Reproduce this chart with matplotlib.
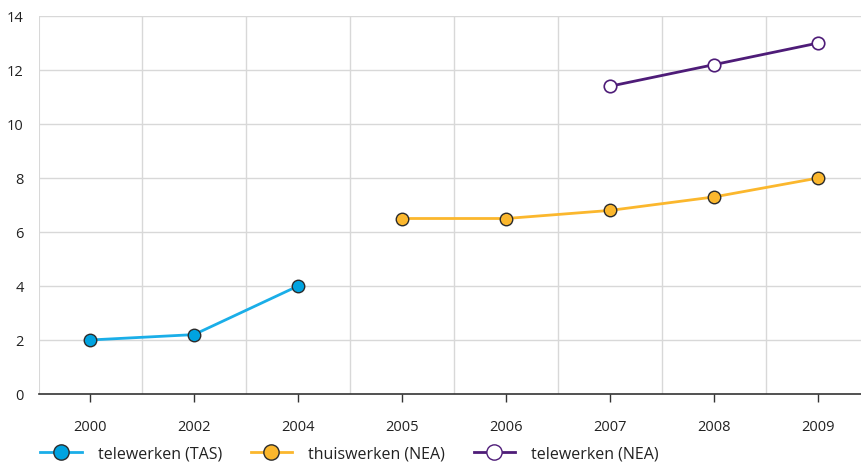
import matplotlib
matplotlib.use("Agg")
import matplotlib.pyplot as plt
from matplotlib.lines import Line2D

plt.rcParams["font.family"] = ["Open Sans", "DejaVu Sans"]

years = ["2000", "2002", "2004", "2005", "2006", "2007", "2008", "2009"]

tas_idx = [0, 1, 2]
tas_values = [2.0, 2.2, 4.0]

thuis_idx = [3, 4, 5, 6, 7]
thuis_values = [6.5, 6.5, 6.8, 7.3, 8.0]

tele_nea_idx = [5, 6, 7]
tele_nea_values = [11.4, 12.2, 13.0]

BLUE = "#1aaee8"
BLUE_FACE = "#00a3e0"
ORANGE = "#fbb72d"
PURPLE = "#4e1c78"
EDGE = "#2b2b2b"
GRID = "#d8d8d8"

fig = plt.figure(figsize=(8.62, 4.64), dpi=100)
ax = fig.add_axes([39 / 862, 1 - 395 / 464, 1 - 39 / 862, (395 - 17) / 464])

ax.plot(tas_idx, tas_values, color=BLUE, linewidth=2, marker="o", markersize=9,
        markerfacecolor=BLUE_FACE, markeredgecolor=EDGE, markeredgewidth=1, zorder=3)
ax.plot(thuis_idx, thuis_values, color=ORANGE, linewidth=2, marker="o", markersize=9,
        markerfacecolor=ORANGE, markeredgecolor=EDGE, markeredgewidth=1, zorder=3)
ax.plot(tele_nea_idx, tele_nea_values, color=PURPLE, linewidth=2, marker="o", markersize=9,
        markerfacecolor="white", markeredgecolor=PURPLE, markeredgewidth=1.2, zorder=3)

ax.set_xlim(-0.49, 7.42)
ax.set_ylim(0, 14)
ax.set_yticks(range(0, 15, 2))
ax.set_xticks(range(len(years)))
ax.set_xticklabels(years)

for pos in range(2, 15, 2):
    ax.axhline(pos, color=GRID, linewidth=1, zorder=1)
for i in range(len(years) - 1):
    ax.axvline(i + 0.5, color=GRID, linewidth=1, zorder=1)
ax.axvline(-0.49, color=GRID, linewidth=1.5, zorder=1)

for side in ["top", "right", "left"]:
    ax.spines[side].set_visible(False)
ax.spines["bottom"].set_color("#333333")
ax.spines["bottom"].set_linewidth(1.2)

ax.tick_params(axis="y", length=0, pad=11, labelsize=10.5, colors="#222222")
ax.tick_params(axis="x", length=6, width=1, color="#333333", pad=12,
               labelsize=10.5, labelcolor="#222222")

handles = [
    Line2D([], [], color=BLUE, linewidth=2, marker="o", markersize=11,
           markerfacecolor=BLUE_FACE, markeredgecolor=EDGE),
    Line2D([], [], color=ORANGE, linewidth=2, marker="o", markersize=11,
           markerfacecolor=ORANGE, markeredgecolor=EDGE),
    Line2D([], [], color=PURPLE, linewidth=2, marker="o", markersize=11,
           markerfacecolor="white", markeredgecolor=PURPLE),
]
labels = ["telewerken (TAS)", "thuiswerken (NEA)", "telewerken (NEA)"]
fig.legend(handles, labels, loc="center left", bbox_to_anchor=(40 / 862, 1 - 455 / 464),
           ncol=3, frameon=False, borderpad=0, borderaxespad=0, handlelength=2.6,
           handletextpad=1.0, columnspacing=1.8, fontsize=11.5, labelcolor="#222222")

fig.savefig("out.png", dpi=100)
